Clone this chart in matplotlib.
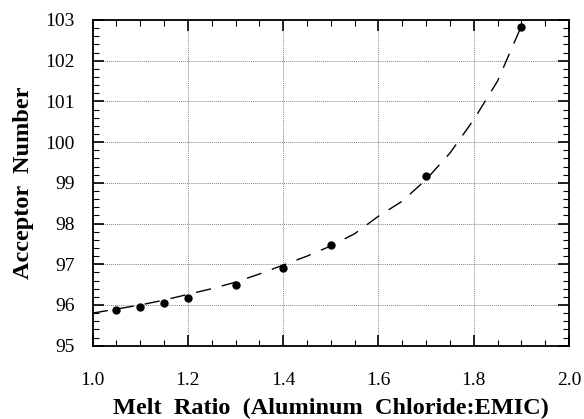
import matplotlib
matplotlib.use("Agg")
import matplotlib.pyplot as plt
from matplotlib.ticker import MultipleLocator, FormatStrFormatter

# measured data
melt_ratio = [1.05, 1.10, 1.15, 1.20, 1.30, 1.40, 1.50, 1.70, 1.90]
acceptor_number = [95.88, 95.95, 96.05, 96.18, 96.50, 96.91, 97.48, 99.16, 102.84]

# fitted curve
fit_x = [1.00, 1.05, 1.10, 1.15, 1.20, 1.25, 1.30, 1.35, 1.40, 1.45, 1.50,
         1.55, 1.60, 1.65, 1.70, 1.75, 1.80, 1.85, 1.90]
fit_y = [95.80, 95.90, 96.00, 96.12, 96.26, 96.40, 96.56, 96.76, 96.98, 97.20,
         97.45, 97.75, 98.18, 98.55, 99.08, 99.73, 100.55, 101.50, 102.85]

plt.rcParams['font.family'] = ['Liberation Serif', 'DejaVu Serif']

fig = plt.figure(figsize=(5.84, 4.19), dpi=100)
ax = fig.add_axes([0.1587, 0.175, 0.9743 - 0.1587, 0.9523 - 0.175])

ax.plot(fit_x, fit_y, color='black', lw=1.0, dashes=(11, 8))
ax.plot(melt_ratio, acceptor_number, 'o', color='black', markersize=5)

ax.set_xlim(1.0, 2.0)
ax.set_ylim(95, 103)
ax.xaxis.set_major_locator(MultipleLocator(0.2))
ax.xaxis.set_minor_locator(MultipleLocator(0.05))
ax.yaxis.set_major_locator(MultipleLocator(1))
ax.yaxis.set_minor_locator(MultipleLocator(0.2))
ax.xaxis.set_major_formatter(FormatStrFormatter('%.1f'))
ax.yaxis.set_major_formatter(FormatStrFormatter('%d'))

ax.tick_params(which='both', direction='in', top=True, right=True, labelsize=14, color='black')
ax.tick_params(which='major', length=8, width=1.2)
ax.tick_params(which='minor', length=4, width=0.8)
ax.tick_params(axis='x', which='major', pad=19)
ax.tick_params(axis='y', which='major', pad=13)

ax.grid(True, which='major', color='#888888', linestyle=(0, (1, 1)), lw=0.7)
for s in ax.spines.values():
    s.set_linewidth(1.3)

ax.set_xlabel('Melt  Ratio  (Aluminum  Chloride:EMIC)', fontsize=17.5, fontweight='bold', labelpad=6)
ax.set_ylabel('Acceptor  Number', fontsize=17.5, fontweight='bold', labelpad=8)

fig.savefig('out.png', dpi=100)
